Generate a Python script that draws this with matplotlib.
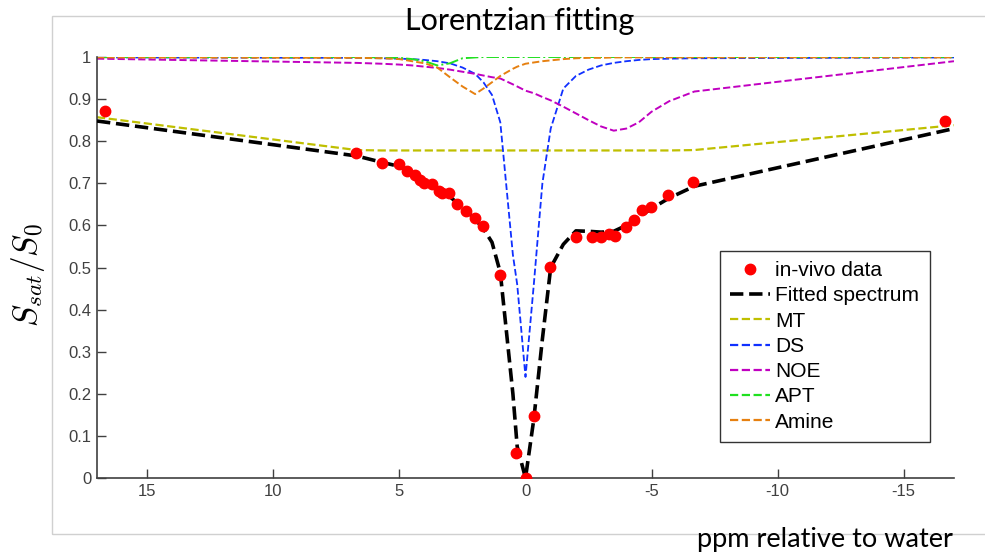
import matplotlib
matplotlib.use("Agg")
from matplotlib import pyplot as plt
from matplotlib.patches import Rectangle
from matplotlib.lines import Line2D

# measured points
data_x = [16.7, 6.72, 5.69, 5.03, 4.69, 4.40, 4.20, 4.03, 3.70, 3.44, 3.30, 3.04, 2.71, 2.37,
          2.02, 1.69, 1.00, 0.36, 0.0, -0.33, -0.97, -2.02, -2.65, -2.98, -3.31, -3.57,
          -3.97, -4.30, -4.63, -4.99, -5.65, -6.64, -16.64]
data_y = [0.872, 0.771, 0.749, 0.745, 0.730, 0.720, 0.709, 0.700, 0.698, 0.682, 0.676, 0.676,
          0.652, 0.634, 0.617, 0.599, 0.481, 0.059, 0.0, 0.148, 0.502, 0.573, 0.573, 0.573,
          0.580, 0.574, 0.597, 0.613, 0.637, 0.644, 0.673, 0.703, 0.849]

# fit offsets and components
fit_x = [17, 6.7, 5.7, 5.0, 4.5, 4.0, 3.5, 3.0, 2.5, 2.0, 1.67, 1.33, 1.0, 0.5, 0.33, 0,
         -0.33, -0.67, -1.0, -1.5, -2.0, -2.5, -3.0, -3.5, -4.0, -4.5, -5.0, -5.7, -6.7, -17]
fitted = [0.848, 0.765, 0.750, 0.740, 0.725, 0.707, 0.688, 0.668, 0.643, 0.615, 0.592, 0.560,
          0.488, 0.20, 0.075, 0.0, 0.14, 0.33, 0.50, 0.555, 0.587, 0.586, 0.584, 0.586,
          0.600, 0.620, 0.640, 0.665, 0.693, 0.830]
mt = [0.857, 0.779, 0.778, 0.778, 0.778, 0.778, 0.778, 0.778, 0.778, 0.778, 0.778, 0.778,
      0.778, 0.778, 0.778, 0.778, 0.778, 0.778, 0.778, 0.778, 0.778, 0.778, 0.778, 0.778,
      0.778, 0.778, 0.778, 0.778, 0.779, 0.838]
ds = [0.999, 0.998, 0.997, 0.996, 0.995, 0.993, 0.990, 0.985, 0.975, 0.960, 0.940, 0.910,
      0.845, 0.53, 0.46, 0.24, 0.46, 0.70, 0.83, 0.925, 0.955, 0.970, 0.980, 0.986,
      0.990, 0.993, 0.995, 0.996, 0.997, 0.999]
noe = [0.996, 0.986, 0.984, 0.982, 0.980, 0.977, 0.974, 0.970, 0.965, 0.960, 0.956, 0.952,
       0.949, 0.935, 0.930, 0.920, 0.914, 0.905, 0.897, 0.882, 0.866, 0.850, 0.835, 0.825,
       0.830, 0.845, 0.870, 0.895, 0.918, 0.990]
apt = [1.0, 1.0, 0.999, 0.998, 0.995, 0.990, 0.980, 0.985, 0.997, 0.999, 1.0, 1.0,
       1.0, 1.0, 1.0, 1.0, 1.0, 1.0, 1.0, 1.0, 1.0, 1.0, 1.0, 1.0,
       1.0, 1.0, 1.0, 1.0, 1.0, 1.0]
amine = [0.999, 0.998, 0.997, 0.995, 0.990, 0.985, 0.975, 0.952, 0.930, 0.912, 0.925, 0.940,
         0.955, 0.972, 0.977, 0.984, 0.987, 0.990, 0.992, 0.995, 0.997, 0.998, 0.998, 0.999,
         0.999, 0.999, 0.999, 0.999, 0.999, 0.999]

x_ticks = [15, 10, 5, 0, -5, -10, -15]
x_ticklabels = ["15", "10", "5", "0", "-5", "-10", "-15"]
y_ticks = [0, 0.1, 0.2, 0.3, 0.4, 0.5, 0.6, 0.7, 0.8, 0.9, 1]
y_ticklabels = ["0", "0.1", "0.2", "0.3", "0.4", "0.5", "0.6", "0.7", "0.8", "0.9", "1"]

plt.rcParams["font.family"] = ["Liberation Sans", "DejaVu Sans"]
plt.rcParams["mathtext.fontset"] = "cm"

fig = plt.figure(figsize=(9.85, 5.54), dpi=100)
fig.patches.append(Rectangle((52 / 985, 1 - 534 / 554), 1.0, (534 - 16) / 554,
                             transform=fig.transFigure, fill=False,
                             edgecolor="#d0d0d0", linewidth=1.0))
ax = fig.add_axes([97 / 985, 76 / 554, 857 / 985, 421 / 554])

ax.plot(data_x, data_y, "o", color="#ff0000", markersize=7.5, label="in-vivo data", zorder=5)
ax.plot(fit_x, fitted, "--", color="black", linewidth=2.6, label="Fitted spectrum", zorder=4)
ax.plot(fit_x, mt, "--", color="#bfbf00", linewidth=1.6, label="MT")
ax.plot(fit_x, ds, "--", color="#1030ff", linewidth=1.3, label="DS")
ax.plot(fit_x, noe, "--", color="#c000c0", linewidth=1.4, label="NOE")
ax.plot(fit_x, apt, "-.", color="#20e020", linewidth=1.4, label="APT")
ax.plot(fit_x, amine, "--", color="#e68010", linewidth=1.4, label="Amine")

ax.set_xlim(17, -17)
ax.set_ylim(0, 1)
ax.set_xticks(x_ticks)
ax.set_xticklabels(x_ticklabels)
ax.set_yticks(y_ticks)
ax.set_yticklabels(y_ticklabels)
ax.tick_params(direction="in", length=6.5, width=1.0, color="#404040",
               labelcolor="#404040", labelsize=12, pad=4)
for s in ["top", "right"]:
    ax.spines[s].set_visible(False)
for s in ["left", "bottom"]:
    ax.spines[s].set_color("#404040")
    ax.spines[s].set_linewidth(1.2)

handles, labels = ax.get_legend_handles_labels()
leg_handles = [handles[0], handles[1]]
for h in handles[2:]:
    leg_handles.append(Line2D([], [], linestyle="--", color=h.get_color(), linewidth=1.6))
leg = ax.legend(leg_handles, labels, loc="lower left", bbox_to_anchor=(0.727, 0.0855, 0.245, 0.468),
                mode="expand", fontsize=15, frameon=True, fancybox=False, numpoints=1,
                handlelength=1.9, handletextpad=0.25, borderpad=0.5, labelspacing=0.3,
                borderaxespad=0)
leg.get_frame().set_edgecolor("black")
leg.get_frame().set_linewidth(1.0)

fig.text(520 / 985, 1 - 21 / 554, "Lorentzian fitting", ha="center", va="center",
         fontsize=22, family=["Lato", "DejaVu Sans"])
fig.text(953 / 985, 1 - 540 / 554, "ppm relative to water", ha="right", va="center",
         fontsize=19.5, family=["Lato", "DejaVu Sans"])
fig.text(28 / 985, 1 - 275 / 554, r"$S_{sat}/S_0$", ha="center", va="center",
         rotation=90, fontsize=24)

fig.savefig("out.png", dpi=100)
